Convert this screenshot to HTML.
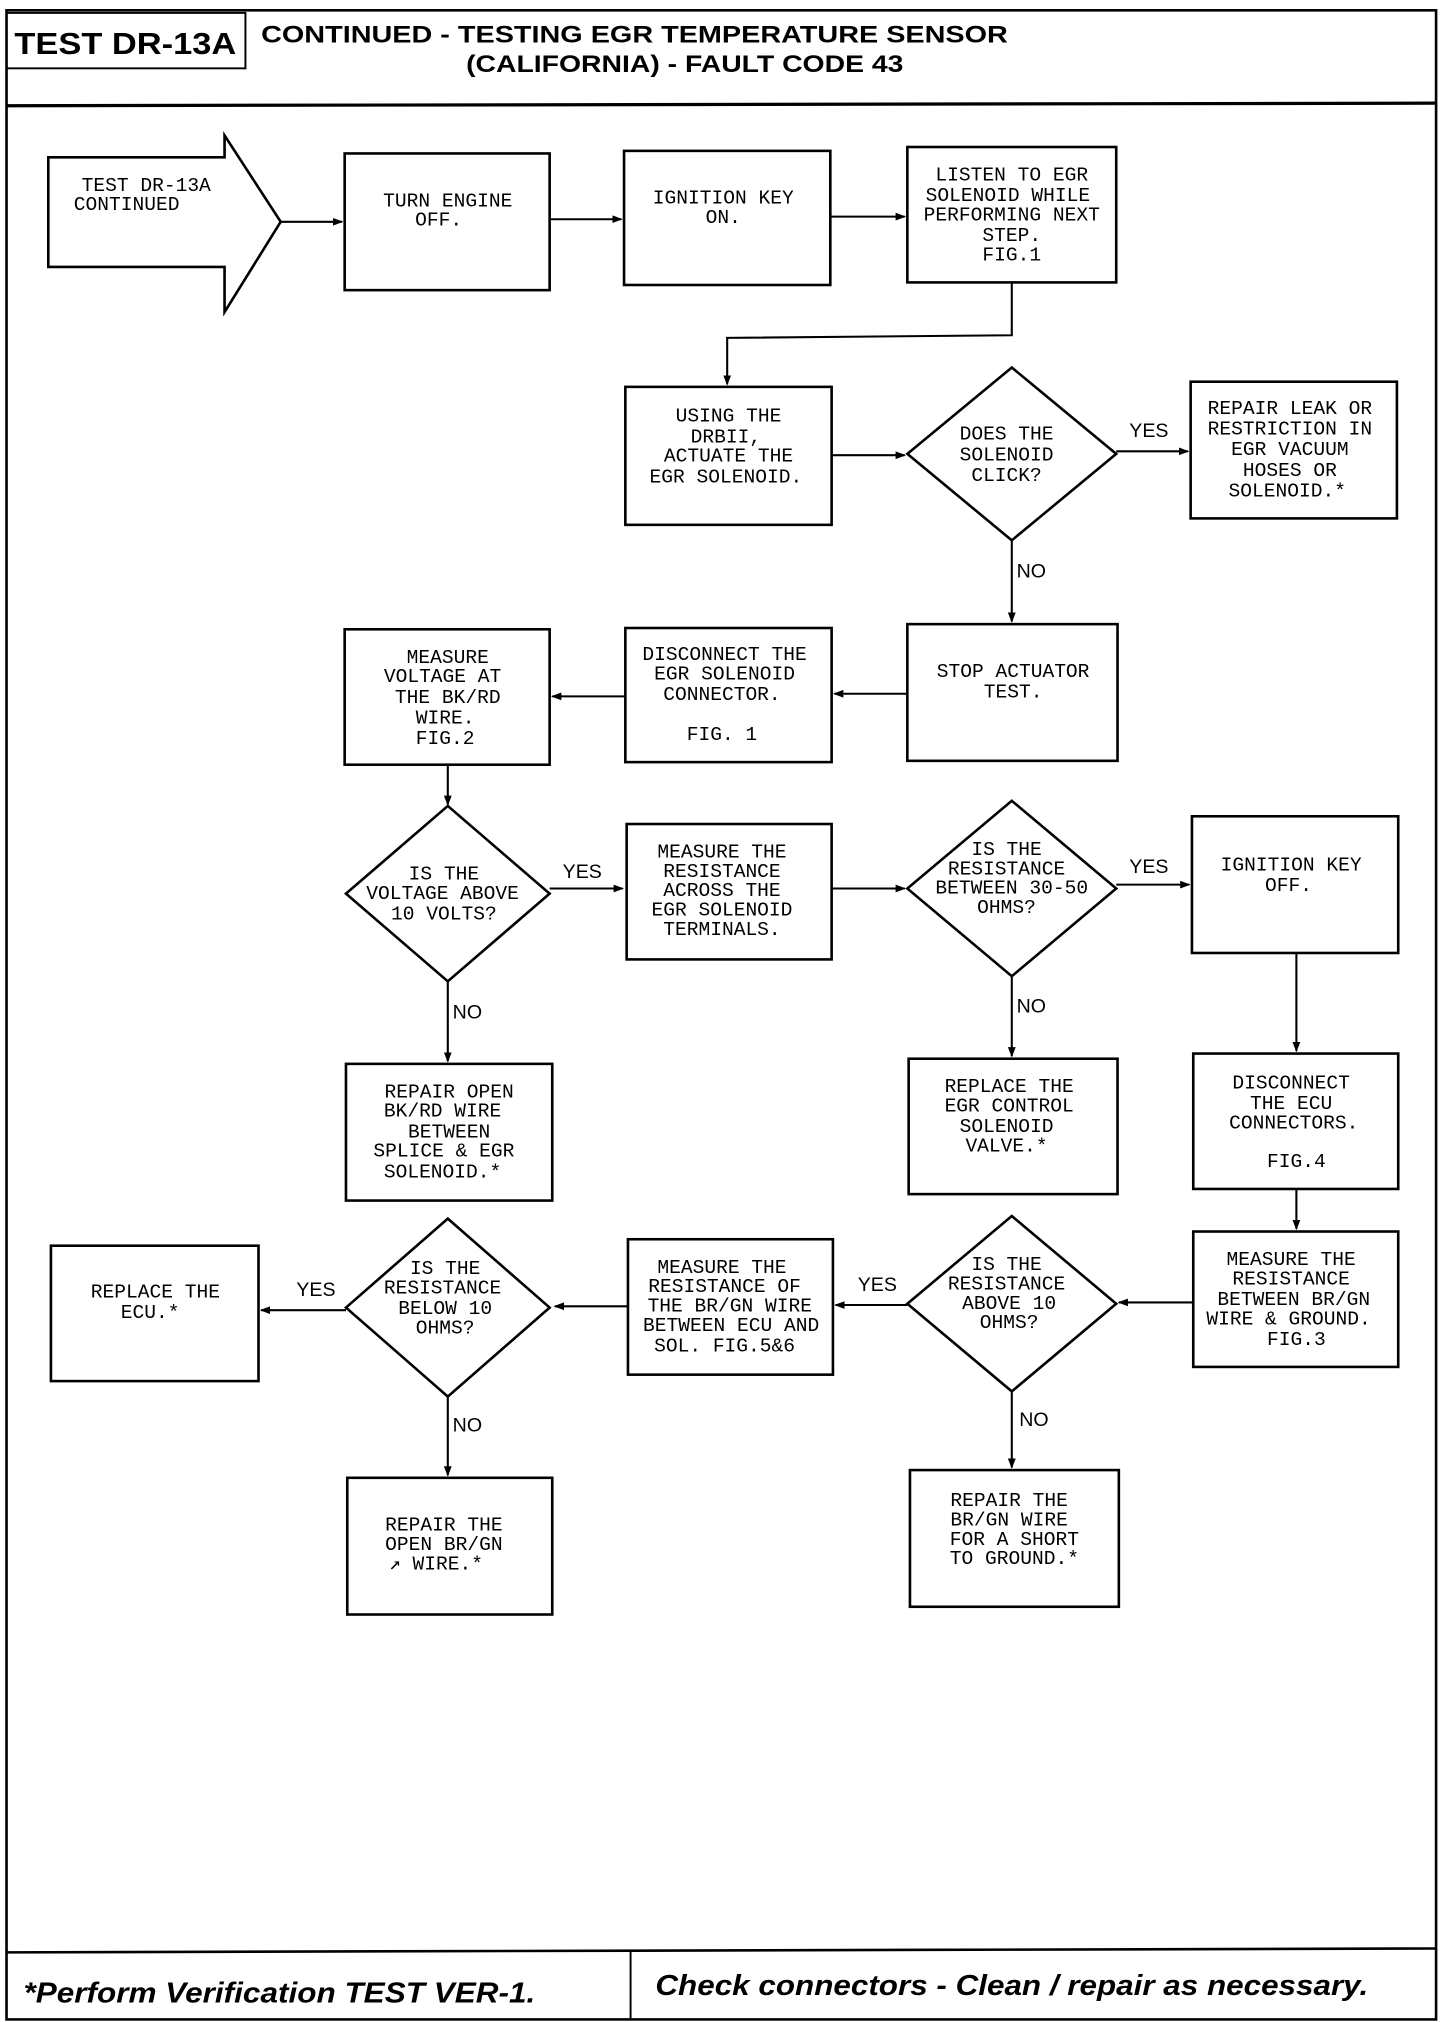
<!DOCTYPE html>
<html><head><meta charset="utf-8"><style>
html,body{margin:0;padding:0;background:#fff;}
svg{display:block;}
.t{font-family:"Liberation Mono",monospace;font-size:15px;fill:#000;text-anchor:middle;}
.l{font-family:"Liberation Sans",sans-serif;font-size:15px;fill:#000;text-anchor:middle;}
.b{fill:#fff;stroke:#000;stroke-width:2;}
.c{stroke:#000;stroke-width:1.6;fill:none;}
</style></head><body>
<svg width="1440" height="2022" viewBox="0 0 1103 1568" preserveAspectRatio="none" xmlns="http://www.w3.org/2000/svg">
<defs><marker id="a" markerWidth="8" markerHeight="8" refX="7" refY="4" orient="auto" markerUnits="userSpaceOnUse"><path d="M0,1 L8,4 L0,7 z" fill="#000"/></marker></defs>
<!-- frame -->
<rect x="5" y="8" width="1095" height="1558" fill="none" stroke="#000" stroke-width="2"/>
<line x1="5" y1="82" x2="1100" y2="80" stroke="#000" stroke-width="2.5"/>
<rect x="5" y="10" width="183" height="43" fill="none" stroke="#000" stroke-width="1.5"/>
<text x="96" y="42" style="font-family:'Liberation Sans',sans-serif;font-weight:bold;font-size:24px;text-anchor:middle" textLength="170" lengthAdjust="spacingAndGlyphs">TEST DR-13A</text>
<text x="200" y="33" style="font-family:'Liberation Sans',sans-serif;font-weight:bold;font-size:19px" textLength="572" lengthAdjust="spacingAndGlyphs">CONTINUED -  TESTING EGR TEMPERATURE SENSOR</text>
<text x="357" y="56" style="font-family:'Liberation Sans',sans-serif;font-weight:bold;font-size:19px" textLength="335" lengthAdjust="spacingAndGlyphs">(CALIFORNIA) - FAULT CODE 43</text>
<!-- footer -->
<line x1="5" y1="1514" x2="1100" y2="1511" stroke="#000" stroke-width="2"/>
<line x1="483" y1="1513" x2="483" y2="1566" stroke="#000" stroke-width="1.5"/>
<text x="18" y="1553" style="font-family:'Liberation Sans',sans-serif;font-weight:bold;font-style:italic;font-size:22px" textLength="392" lengthAdjust="spacingAndGlyphs">*Perform Verification TEST VER-1.</text>
<text x="502" y="1547" style="font-family:'Liberation Sans',sans-serif;font-weight:bold;font-style:italic;font-size:22px" textLength="546" lengthAdjust="spacingAndGlyphs">Check connectors - Clean / repair as necessary.</text>

<!-- start arrow -->
<path d="M37,122 L172,122 L172,105 L215,172 L172,242 L172,207 L37,207 Z" class="b"/>
<text class="t" x="112" y="148">TEST DR-13A</text>
<text class="t" x="97" y="163">CONTINUED</text>

<!-- boxes -->
<rect class="b" x="264" y="119" width="157" height="106"/>
<text class="t" x="343" y="160">TURN ENGINE</text><text class="t" x="336" y="175">OFF.</text>
<rect class="b" x="478" y="117" width="158" height="104"/>
<text class="t" x="554" y="158">IGNITION KEY</text><text class="t" x="554" y="173">ON.</text>
<rect class="b" x="695" y="114" width="160" height="105"/>
<text class="t" x="775" y="140">LISTEN TO EGR</text><text class="t" x="772" y="156">SOLENOID WHILE</text><text class="t" x="775" y="171">PERFORMING NEXT</text><text class="t" x="775" y="187">STEP.</text><text class="t" x="775" y="202">FIG.1</text>

<line class="c" x1="215" y1="172" x2="262" y2="172" marker-end="url(#a)"/>
<line class="c" x1="421" y1="170" x2="476" y2="170" marker-end="url(#a)"/>
<line class="c" x1="636" y1="168" x2="693" y2="168" marker-end="url(#a)"/>
<path class="c" d="M775,219 L775,260 L557,262 L557,298" marker-end="url(#a)"/>

<rect class="b" x="479" y="300" width="158" height="107"/>
<text class="t" x="558" y="327">USING THE</text><text class="t" x="556" y="343">DRBII,</text><text class="t" x="558" y="358">ACTUATE THE</text><text class="t" x="556" y="374">EGR SOLENOID.</text>
<line class="c" x1="637" y1="353" x2="693" y2="353" marker-end="url(#a)"/>
<path class="b" d="M775,285 L855,352 L775,419 L695,352 Z"/>
<text class="t" x="771" y="341">DOES THE</text><text class="t" x="771" y="357">SOLENOID</text><text class="t" x="771" y="373">CLICK?</text>
<line class="c" x1="855" y1="350" x2="910" y2="350" marker-end="url(#a)"/>
<text class="l" x="880" y="339">YES</text>
<rect class="b" x="912" y="296" width="158" height="106"/>
<text class="t" x="988" y="321">REPAIR LEAK OR</text><text class="t" x="988" y="337">RESTRICTION IN</text><text class="t" x="988" y="353">EGR VACUUM</text><text class="t" x="988" y="369">HOSES OR</text><text class="t" x="986" y="385">SOLENOID.*</text>
<line class="c" x1="775" y1="419" x2="775" y2="482" marker-end="url(#a)"/>
<text class="l" x="790" y="448">NO</text>

<rect class="b" x="695" y="484" width="161" height="106"/>
<text class="t" x="776" y="525">STOP ACTUATOR</text><text class="t" x="776" y="541">TEST.</text>
<line class="c" x1="695" y1="538" x2="639" y2="538" marker-end="url(#a)"/>
<rect class="b" x="479" y="487" width="158" height="104"/>
<text class="t" x="555" y="512">DISCONNECT THE</text><text class="t" x="555" y="527">EGR SOLENOID</text><text class="t" x="553" y="543">CONNECTOR.</text><text class="t" x="553" y="574">FIG. 1</text>
<line class="c" x1="479" y1="540" x2="423" y2="540" marker-end="url(#a)"/>
<rect class="b" x="264" y="488" width="157" height="105"/>
<text class="t" x="343" y="514">MEASURE</text><text class="t" x="339" y="529">VOLTAGE AT</text><text class="t" x="343" y="545">THE BK/RD</text><text class="t" x="341" y="561">WIRE.</text><text class="t" x="341" y="577">FIG.2</text>
<line class="c" x1="343" y1="593" x2="343" y2="624" marker-end="url(#a)"/>

<path class="b" d="M343,625 L421,693 L343,761 L265,693 Z"/>
<text class="t" x="340" y="682">IS THE</text><text class="t" x="339" y="697">VOLTAGE ABOVE</text><text class="t" x="340" y="713">10 VOLTS?</text>
<line class="c" x1="421" y1="689" x2="477" y2="689" marker-end="url(#a)"/>
<text class="l" x="446" y="681">YES</text>
<rect class="b" x="480" y="639" width="157" height="105"/>
<text class="t" x="553" y="665">MEASURE THE</text><text class="t" x="553" y="680">RESISTANCE</text><text class="t" x="553" y="695">ACROSS THE</text><text class="t" x="553" y="710">EGR SOLENOID</text><text class="t" x="553" y="725">TERMINALS.</text>
<line class="c" x1="637" y1="689" x2="693" y2="689" marker-end="url(#a)"/>
<path class="b" d="M775,621 L855,689 L775,757 L695,689 Z"/>
<text class="t" x="771" y="663">IS THE</text><text class="t" x="771" y="678">RESISTANCE</text><text class="t" x="775" y="693">BETWEEN 30-50</text><text class="t" x="771" y="708">OHMS?</text>
<line class="c" x1="855" y1="686" x2="911" y2="686" marker-end="url(#a)"/>
<text class="l" x="880" y="677">YES</text>
<rect class="b" x="913" y="633" width="158" height="106"/>
<text class="t" x="989" y="675">IGNITION KEY</text><text class="t" x="987" y="691">OFF.</text>
<line class="c" x1="993" y1="739" x2="993" y2="815" marker-end="url(#a)"/>

<line class="c" x1="343" y1="761" x2="343" y2="823" marker-end="url(#a)"/>
<text class="l" x="358" y="790">NO</text>
<rect class="b" x="265" y="825" width="158" height="106"/>
<text class="t" x="344" y="851">REPAIR OPEN</text><text class="t" x="339" y="866">BK/RD WIRE</text><text class="t" x="344" y="882">BETWEEN</text><text class="t" x="340" y="897">SPLICE &amp; EGR</text><text class="t" x="339" y="913">SOLENOID.*</text>
<line class="c" x1="775" y1="757" x2="775" y2="819" marker-end="url(#a)"/>
<text class="l" x="790" y="785">NO</text>
<rect class="b" x="696" y="821" width="160" height="105"/>
<text class="t" x="773" y="847">REPLACE THE</text><text class="t" x="773" y="862">EGR CONTROL</text><text class="t" x="771" y="878">SOLENOID</text><text class="t" x="771" y="893">VALVE.*</text>
<rect class="b" x="914" y="817" width="157" height="105"/>
<text class="t" x="989" y="844">DISCONNECT</text><text class="t" x="989" y="860">THE ECU</text><text class="t" x="991" y="875">CONNECTORS.</text><text class="t" x="993" y="905">FIG.4</text>
<line class="c" x1="993" y1="922" x2="993" y2="953" marker-end="url(#a)"/>

<rect class="b" x="914" y="955" width="157" height="105"/>
<text class="t" x="989" y="981">MEASURE THE</text><text class="t" x="989" y="996">RESISTANCE</text><text class="t" x="991" y="1012">BETWEEN BR/GN</text><text class="t" x="987" y="1027">WIRE &amp; GROUND.</text><text class="t" x="993" y="1043">FIG.3</text>
<line class="c" x1="914" y1="1010" x2="857" y2="1010" marker-end="url(#a)"/>
<path class="b" d="M775,943 L855,1011 L775,1079 L695,1011 Z"/>
<text class="t" x="771" y="985">IS THE</text><text class="t" x="771" y="1000">RESISTANCE</text><text class="t" x="773" y="1015">ABOVE 10</text><text class="t" x="773" y="1030">OHMS?</text>
<line class="c" x1="695" y1="1012" x2="640" y2="1012" marker-end="url(#a)"/>
<text class="l" x="672" y="1001">YES</text>
<rect class="b" x="481" y="961" width="157" height="105"/>
<text class="t" x="553" y="987">MEASURE THE</text><text class="t" x="555" y="1002">RESISTANCE OF</text><text class="t" x="559" y="1017">THE BR/GN WIRE</text><text class="t" x="560" y="1032">BETWEEN ECU AND</text><text class="t" x="555" y="1048">SOL. FIG.5&amp;6</text>
<line class="c" x1="481" y1="1013" x2="425" y2="1013" marker-end="url(#a)"/>
<path class="b" d="M343,945 L421,1014 L343,1083 L265,1014 Z"/>
<text class="t" x="341" y="988">IS THE</text><text class="t" x="339" y="1003">RESISTANCE</text><text class="t" x="341" y="1019">BELOW 10</text><text class="t" x="341" y="1034">OHMS?</text>
<line class="c" x1="265" y1="1016" x2="200" y2="1016" marker-end="url(#a)"/>
<text class="l" x="242" y="1005">YES</text>
<rect class="b" x="39" y="966" width="159" height="105"/>
<text class="t" x="119" y="1006">REPLACE THE</text><text class="t" x="115" y="1022">ECU.*</text>

<line class="c" x1="343" y1="1083" x2="343" y2="1144" marker-end="url(#a)"/>
<text class="l" x="358" y="1110">NO</text>
<rect class="b" x="266" y="1146" width="157" height="106"/>
<text class="t" x="340" y="1187">REPAIR THE</text><text class="t" x="340" y="1202">OPEN BR/GN</text><text class="t" x="334" y="1217">&#8599; WIRE.*</text>
<line class="c" x1="775" y1="1079" x2="775" y2="1138" marker-end="url(#a)"/>
<text class="l" x="792" y="1106">NO</text>
<rect class="b" x="697" y="1140" width="160" height="106"/>
<text class="t" x="773" y="1168">REPAIR THE</text><text class="t" x="773" y="1183">BR/GN WIRE</text><text class="t" x="777" y="1198">FOR A SHORT</text><text class="t" x="777" y="1213">TO GROUND.*</text>
</svg>
</body></html>
